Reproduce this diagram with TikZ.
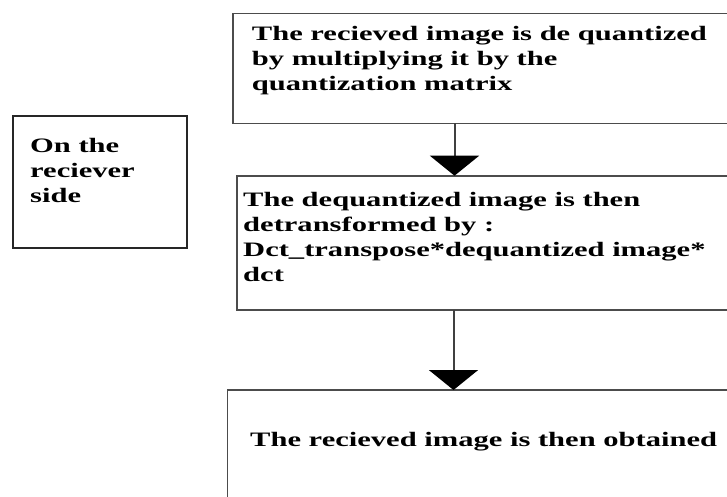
\documentclass[tikz,border=0pt]{standalone}
\usepackage{fontspec}
\setmainfont[FakeStretch=1.49]{Liberation Serif}
\usetikzlibrary{arrows.meta}
\begin{document}
\begin{tikzpicture}[x=1pt,y=-1pt,
  box/.style={draw=black!70, line width=1.6pt, rectangle, anchor=north west, inner sep=0pt, outer sep=0pt},
  sidebox/.style={box, draw=black!85, line width=2pt},
  txt/.style={anchor=base west, inner sep=0pt, align=left, font=\fontsize{20.5}{25}\selectfont\bfseries},
  flow/.style={draw=black!75, line width=2pt, -{Triangle[width=49pt,length=20pt,color=black]}}]
\useasboundingbox (0,0) rectangle (727,496);
% boxes
\node[sidebox, minimum width=173.4pt, minimum height=132.6pt] (side) at (13.3,115.7) {};
\node[box, minimum width=520pt, minimum height=110pt] (b1) at (232.7,13.3) {};
\node[box, minimum width=520pt, minimum height=134.3pt] (b2) at (236.7,175.7) {};
\node[box, minimum width=520pt, minimum height=130pt] (b3) at (227.3,390) {};
% texts (anchored at the baseline of the last line)
\node[txt] (t0) at (30,202.5) {On the\\reciever\\side};
\node[txt] (t1) at (251.7,90.7) {The recieved image is de quantized\\by multiplying it by the\\quantization matrix};
\node[txt] (t2) at (243,281.7) {The dequantized image is then\\detransformed by :\\Dct\_transpose*dequantized image*\\dct};
\node[txt] (t3) at (250,446.7) {The recieved image is then obtained};
% connectors
\coordinate (xa) at (454.5,0);
\coordinate (xb) at (453.5,0);
\draw[flow] (xa |- b1.south) -- (xa |- b2.north);
\draw[flow] (xb |- b2.south) -- (xb |- b3.north);
\end{tikzpicture}
\end{document}
